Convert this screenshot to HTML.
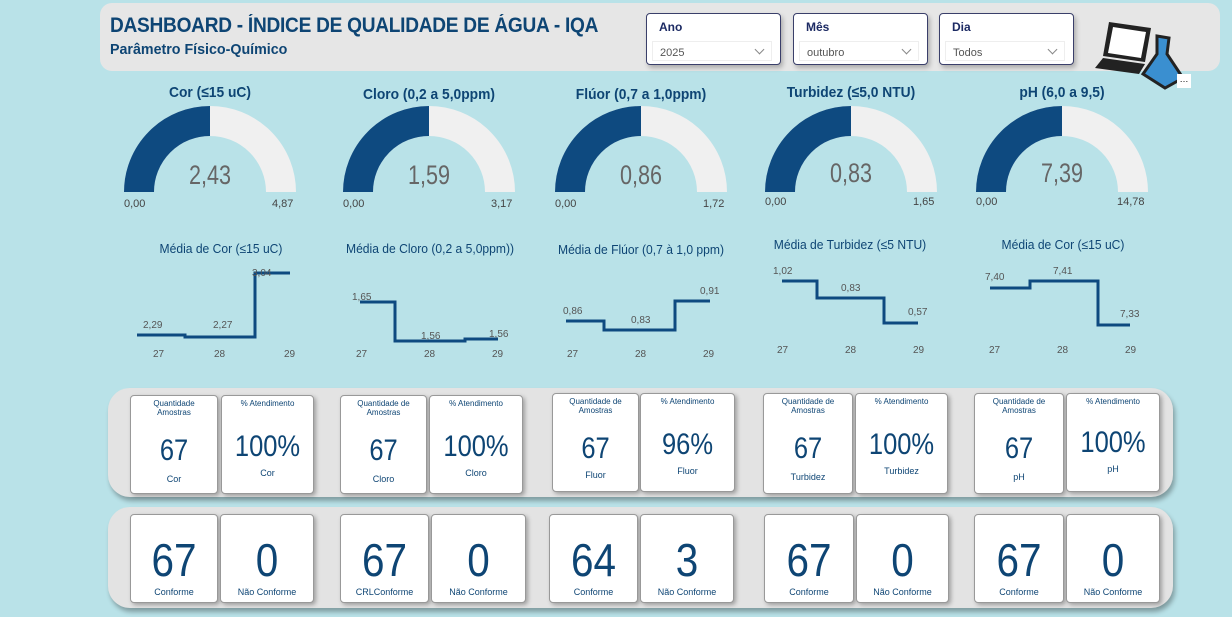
<!DOCTYPE html>
<html><head><meta charset="utf-8"><style>
body{margin:0;width:1232px;height:617px;background:#b9e2e8;font-family:"Liberation Sans",sans-serif;position:relative;overflow:hidden}
.a{position:absolute}
.hdr{left:100px;top:3px;width:1120px;height:68px;background:#e6e6e6;border-radius:12px}
.t1{left:110px;top:14px;font-size:21px;font-weight:bold;color:#0e4574;letter-spacing:-0.3px;transform:scaleX(0.91);transform-origin:left}
.t2{left:110px;top:41px;font-size:15px;font-weight:bold;color:#0e4574;transform:scaleX(0.95);transform-origin:left}
.sl{width:133px;height:50px;background:#fff;border:1.5px solid #3a3f6a;border-radius:4px;top:13px;box-shadow:2px 3px 5px rgba(0,0,0,.25)}
.sl b{position:absolute;left:12px;top:6px;font-size:12px;color:#1c2a63;font-weight:bold}
.sl span{position:absolute;left:5px;top:27px;width:120px;height:20px;border:1px solid #eee;font-size:11px;color:#555;line-height:22px;padding-left:7px;box-sizing:border-box}
.sl span:after{content:"";position:absolute;right:8px;top:4px;width:6px;height:6px;border-right:1px solid #888;border-bottom:1px solid #888;transform:rotate(45deg)}
.gt{font-size:15px;font-weight:bold;color:#0e4574;text-align:center;width:220px;transform:scaleX(0.92)}
.gv{font-size:27px;color:#666;text-align:center;width:100px;transform:scaleX(0.8)}
.sm{font-size:11px;color:#444}
.ct{font-size:13px;color:#0e4574;text-align:center;width:230px;transform:scaleX(0.93)}
.panel{left:108px;width:1065px;background:#e3e3e3;border-radius:22px;box-shadow:2px 4px 5px rgba(0,0,0,.3)}
.card{background:#fff;border:1px solid #999;border-radius:4px;box-shadow:2px 2px 4px rgba(0,0,0,.3);text-align:center;color:#0e4574}
.card .h{position:absolute;top:3px;left:0;right:0;font-size:8px;line-height:9px}
.card .v{position:absolute;left:0;right:0;font-size:30px;transform:scaleX(0.85)}
.card .f{position:absolute;left:0;right:0;font-size:9px}
.card .V{position:absolute;left:0;right:0;top:18px;font-size:46px;transform:scaleX(0.88)}
</style></head><body>
<div class="a hdr"></div>
<div class="a t1">DASHBOARD - ÍNDICE DE QUALIDADE DE ÁGUA - IQA</div>
<div class="a t2">Parâmetro Físico-Químico</div>
<div class="a sl" style="left:646px"><b>Ano</b><span>2025</span></div>
<div class="a sl" style="left:793px"><b>Mês</b><span>outubro</span></div>
<div class="a sl" style="left:939px"><b>Dia</b><span>Todos</span></div>
<svg class="a" style="left:1095px;top:18px" width="95" height="72">
<path d="M14 4 L56 10 L50 44 L8 38Z" fill="#222"/><path d="M18 9 L51 14 L46 40 L13 35Z" fill="#fff"/>
<path d="M8 40 L50 46 L44 56 L0 50Z" fill="#222"/>
<path d="M62 18 L74 20 L72 36 L88 60 L70 70 L48 56 L62 36Z" fill="#3a8fd0" stroke="#222" stroke-width="3"/>
</svg>
<div class="a" style="left:1177px;top:74px;width:14px;height:14px;background:#fff;font-size:9px;text-align:center">…</div>
<svg class="a" style="left:0;top:0" width="1232" height="380">
<g fill="none" stroke-width="30">
<path d="M139 192 A71 71 0 0 1 281 192" stroke="#f0f0f0"/><path d="M139 192 A71 71 0 0 1 210 121" stroke="#0e4a80"/>
<path d="M358 192 A71 71 0 0 1 500 192" stroke="#f0f0f0"/><path d="M358 192 A71 71 0 0 1 429 121" stroke="#0e4a80"/>
<path d="M570 192 A71 71 0 0 1 712 192" stroke="#f0f0f0"/><path d="M570 192 A71 71 0 0 1 641 121" stroke="#0e4a80"/>
<path d="M780 192 A71 71 0 0 1 922 192" stroke="#f0f0f0"/><path d="M780 192 A71 71 0 0 1 851 121" stroke="#0e4a80"/>
<path d="M991 192 A71 71 0 0 1 1133 192" stroke="#f0f0f0"/><path d="M991 192 A71 71 0 0 1 1062 121" stroke="#0e4a80"/>
</g>
<g fill="none" stroke="#0e4a80" stroke-width="3">
<path d="M137 335H185V337H255V273H290"/>
<path d="M360 302H395V341H465V339H498"/>
<path d="M566 321H604V330H675V301H710"/>
<path d="M782 281H817V298H884V323H918"/>
<path d="M990 288H1030V281H1098V325H1130"/>
</g>
<g font-size="10" fill="#555" font-family="Liberation Sans">
<text x="143" y="328">2,29</text><text x="213" y="328">2,27</text><text x="252" y="276">3,04</text>
<text x="153" y="357">27</text><text x="214" y="357">28</text><text x="284" y="357">29</text>
<text x="352" y="300">1,65</text><text x="421" y="339">1,56</text><text x="489" y="337">1,56</text>
<text x="356" y="357">27</text><text x="424" y="357">28</text><text x="492" y="357">29</text>
<text x="563" y="314">0,86</text><text x="631" y="323">0,83</text><text x="700" y="294">0,91</text>
<text x="567" y="357">27</text><text x="635" y="357">28</text><text x="703" y="357">29</text>
<text x="773" y="274">1,02</text><text x="841" y="291">0,83</text><text x="908" y="315">0,57</text>
<text x="777" y="353">27</text><text x="845" y="353">28</text><text x="913" y="353">29</text>
<text x="985" y="280">7,40</text><text x="1053" y="274">7,41</text><text x="1120" y="317">7,33</text>
<text x="989" y="353">27</text><text x="1057" y="353">28</text><text x="1125" y="353">29</text>
</g>
</svg>
<div class="a gt" style="left:100px;top:84px">Cor (≤15 uC)</div>
<div class="a gt" style="left:319px;top:86px">Cloro (0,2 a 5,0ppm)</div>
<div class="a gt" style="left:531px;top:86px">Flúor (0,7 a 1,0ppm)</div>
<div class="a gt" style="left:741px;top:84px">Turbidez (≤5,0 NTU)</div>
<div class="a gt" style="left:952px;top:84px">pH (6,0 a 9,5)</div>
<div class="a gv" style="left:160px;top:160px">2,43</div>
<div class="a gv" style="left:379px;top:160px">1,59</div>
<div class="a gv" style="left:591px;top:160px">0,86</div>
<div class="a gv" style="left:801px;top:158px">0,83</div>
<div class="a gv" style="left:1012px;top:158px">7,39</div>
<div class="a sm" style="left:124px;top:198px">0,00</div><div class="a sm" style="left:272px;top:198px">4,87</div>
<div class="a sm" style="left:343px;top:198px">0,00</div><div class="a sm" style="left:491px;top:198px">3,17</div>
<div class="a sm" style="left:555px;top:198px">0,00</div><div class="a sm" style="left:703px;top:198px">1,72</div>
<div class="a sm" style="left:765px;top:196px">0,00</div><div class="a sm" style="left:913px;top:196px">1,65</div>
<div class="a sm" style="left:976px;top:196px">0,00</div><div class="a sm" style="left:1117px;top:196px">14,78</div>
<div class="a ct" style="left:106px;top:241px">Média de Cor (≤15 uC)</div>
<div class="a ct" style="left:315px;top:241px">Média de Cloro (0,2 a 5,0ppm))</div>
<div class="a ct" style="left:526px;top:242px">Média de Flúor (0,7 à 1,0 ppm)</div>
<div class="a ct" style="left:735px;top:237px">Média de Turbidez (≤5 NTU)</div>
<div class="a ct" style="left:948px;top:237px">Média de Cor (≤15 uC)</div>
<div class="a panel" style="top:388px;height:109px"></div>
<div class="a panel" style="top:507px;height:101px"></div>

<div class="a card" style="left:130px;top:395px;width:86px;height:97px"><div class="h">Quantidade<br>Amostras</div><div class="v" style="top:38px">67</div><div class="f" style="top:78px">Cor</div></div>
<div class="a card" style="left:221px;top:395px;width:91px;height:97px"><div class="h">% Atendimento</div><div class="v" style="top:34px">100%</div><div class="f" style="top:72px">Cor</div></div>
<div class="a card" style="left:340px;top:395px;width:85px;height:97px"><div class="h">Quantidade de<br>Amostras</div><div class="v" style="top:38px">67</div><div class="f" style="top:78px">Cloro</div></div>
<div class="a card" style="left:429px;top:395px;width:92px;height:97px"><div class="h">% Atendimento</div><div class="v" style="top:34px">100%</div><div class="f" style="top:72px">Cloro</div></div>
<div class="a card" style="left:552px;top:393px;width:85px;height:97px"><div class="h">Quantidade de<br>Amostras</div><div class="v" style="top:38px">67</div><div class="f" style="top:76px">Fluor</div></div>
<div class="a card" style="left:640px;top:393px;width:93px;height:97px"><div class="h">% Atendimento</div><div class="v" style="top:34px">96%</div><div class="f" style="top:72px">Fluor</div></div>
<div class="a card" style="left:763px;top:393px;width:88px;height:99px"><div class="h">Quantidade de<br>Amostras</div><div class="v" style="top:38px">67</div><div class="f" style="top:78px">Turbidez</div></div>
<div class="a card" style="left:855px;top:393px;width:91px;height:99px"><div class="h">% Atendimento</div><div class="v" style="top:34px">100%</div><div class="f" style="top:72px">Turbidez</div></div>
<div class="a card" style="left:974px;top:393px;width:88px;height:99px"><div class="h">Quantidade de<br>Amostras</div><div class="v" style="top:38px">67</div><div class="f" style="top:78px">pH</div></div>
<div class="a card" style="left:1066px;top:393px;width:92px;height:97px"><div class="h">% Atendimento</div><div class="v" style="top:32px">100%</div><div class="f" style="top:70px">pH</div></div>

<div class="a card" style="left:130px;top:514px;width:86px;height:87px"><div class="V">67</div><div class="f" style="top:72px">Conforme</div></div>
<div class="a card" style="left:220px;top:514px;width:92px;height:87px"><div class="V">0</div><div class="f" style="top:72px">Não Conforme</div></div>
<div class="a card" style="left:340px;top:514px;width:87px;height:87px"><div class="V">67</div><div class="f" style="top:72px">CRLConforme</div></div>
<div class="a card" style="left:431px;top:514px;width:93px;height:87px"><div class="V">0</div><div class="f" style="top:72px">Não Conforme</div></div>
<div class="a card" style="left:549px;top:514px;width:87px;height:87px"><div class="V">64</div><div class="f" style="top:72px">Conforme</div></div>
<div class="a card" style="left:640px;top:514px;width:92px;height:87px"><div class="V">3</div><div class="f" style="top:72px">Não Conforme</div></div>
<div class="a card" style="left:764px;top:514px;width:88px;height:87px"><div class="V">67</div><div class="f" style="top:72px">Conforme</div></div>
<div class="a card" style="left:856px;top:514px;width:91px;height:87px"><div class="V">0</div><div class="f" style="top:72px">Não Conforme</div></div>
<div class="a card" style="left:974px;top:514px;width:88px;height:87px"><div class="V">67</div><div class="f" style="top:72px">Conforme</div></div>
<div class="a card" style="left:1066px;top:514px;width:92px;height:87px"><div class="V">0</div><div class="f" style="top:72px">Não Conforme</div></div>
</body></html>
